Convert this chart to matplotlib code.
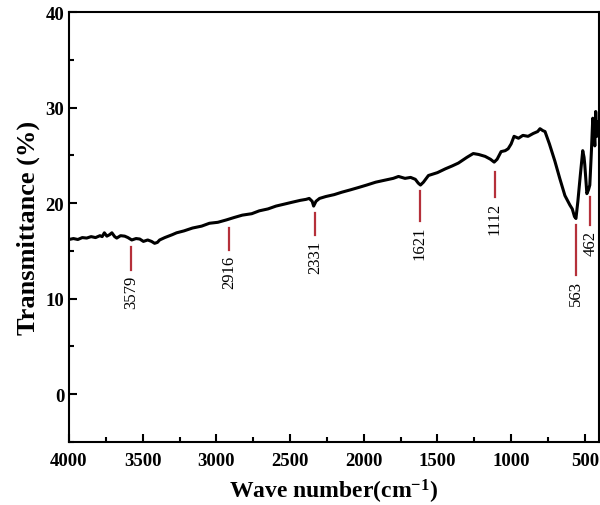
import matplotlib
matplotlib.use('Agg')
from matplotlib import pyplot as plt
from matplotlib.ticker import MultipleLocator

# FTIR spectrum
wavenumber = [4000, 3970, 3940, 3910, 3880, 3850, 3820, 3790, 3775, 3760, 3743, 3725, 3709,
              3690, 3676, 3650, 3622, 3600, 3574, 3545, 3520, 3495, 3466, 3440, 3419, 3400,
              3385, 3350, 3300, 3270, 3220, 3162, 3100, 3047, 2990, 2932, 2880, 2824, 2760,
              2709, 2650, 2595, 2540, 2486, 2430, 2392, 2370, 2350, 2340, 2324, 2300, 2257,
              2200, 2149, 2090, 2034, 1980, 1919, 1860, 1800, 1764, 1720, 1682, 1650, 1630,
              1615, 1595, 1561, 1500, 1446, 1400, 1358, 1300, 1257, 1220, 1176, 1140, 1115,
              1095, 1068, 1040, 1020, 1000, 980, 950, 920, 885, 850, 820, 804, 785, 770,
              740, 703, 670, 635, 601, 585, 570, 560, 547, 530, 514, 505, 500, 486, 475,
              466, 455, 446, 438, 432, 426, 418, 410]
transmittance = [16.2, 16.3, 16.2, 16.4, 16.35, 16.5, 16.4, 16.6, 16.5, 16.9, 16.55, 16.7, 16.9,
                 16.5, 16.35, 16.6, 16.55, 16.4, 16.15, 16.3, 16.25, 16.0, 16.15, 16.0, 15.8, 15.9,
                 16.15, 16.4, 16.7, 16.9, 17.1, 17.4, 17.6, 17.9, 18.0, 18.25, 18.5, 18.75, 18.9,
                 19.2, 19.4, 19.7, 19.9, 20.1, 20.3, 20.4, 20.5, 20.2, 19.7, 20.2, 20.5, 20.7,
                 20.9, 21.15, 21.4, 21.65, 21.9, 22.2, 22.4, 22.6, 22.8, 22.6, 22.7, 22.5, 22.1,
                 21.9, 22.2, 22.9, 23.2, 23.6, 23.9, 24.2, 24.8, 25.2, 25.1, 24.9, 24.6, 24.3,
                 24.6, 25.4, 25.5, 25.7, 26.2, 27.0, 26.8, 27.1, 27.0, 27.3, 27.5, 27.8, 27.6,
                 27.5, 26.2, 24.4, 22.6, 20.8, 19.8, 19.4, 18.6, 18.4, 20.2, 23.0, 25.5, 24.8,
                 24.0, 21.0, 21.4, 21.9, 25.5, 28.9, 27.5, 26.0, 29.6, 27.0, 28.5]

# band assignments: position, top and bottom of the red marker
peaks = [3579, 2916, 2331, 1621, 1112, 563, 462]
peak_top = [15.4, 17.4, 19.0, 21.25, 23.3, 17.7, 20.6]
peak_bottom = [13.0, 15.1, 16.7, 18.1, 20.6, 12.5, 17.7]

plt.rcParams['font.family'] = ['Liberation Serif', 'DejaVu Serif']
plt.rcParams['mathtext.fontset'] = 'custom'
plt.rcParams['mathtext.rm'] = 'Liberation Serif:bold'
plt.rcParams['mathtext.default'] = 'rm'

fig = plt.figure(figsize=(6, 5.06), dpi=100)
ax = fig.add_axes([0.115, 0.1245, 0.883, 0.8495])

ax.plot(wavenumber, transmittance, color='black', lw=2.2)

for p, t, b in zip(peaks, peak_top, peak_bottom):
    ax.plot([p, p], [t, b], color='#b5303a', lw=1.6)
    ax.text(p, b - 0.5, str(p), rotation=90, ha='center', va='top', fontsize=12)

ax.set_xlim(4000, 405)
ax.set_ylim(-5, 40)
ax.xaxis.set_major_locator(MultipleLocator(500))
ax.xaxis.set_minor_locator(MultipleLocator(250))
ax.yaxis.set_major_locator(MultipleLocator(10))
ax.yaxis.set_minor_locator(MultipleLocator(5))
ax.tick_params(which='both', direction='in', width=1.5, labelsize=13.5)
ax.tick_params(axis='x', which='major', pad=7)
ax.tick_params(which='major', length=6)
ax.tick_params(which='minor', length=3.5)
ax.tick_params(right=False, top=False)
for lab in ax.get_xticklabels() + ax.get_yticklabels():
    lab.set_fontweight('bold')
for s in ax.spines.values():
    s.set_linewidth(1.5)

ax.set_xlabel('Wave number(cm$^{-1}$)', fontsize=17, fontweight='bold', labelpad=6)
ax.set_ylabel('Transmittance (%)', fontsize=19, fontweight='bold', labelpad=4)

fig.savefig('out.png', dpi=100)
